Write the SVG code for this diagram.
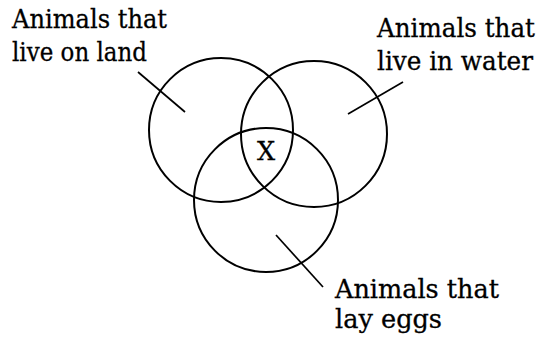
<svg xmlns="http://www.w3.org/2000/svg" width="541" height="339" viewBox="0 0 541 339">
<style>
.c{fill:none;stroke:#000;stroke-width:2}
.l{stroke:#000;stroke-width:1.7}
text{font-family:"DejaVu Serif","Liberation Serif",serif;font-size:25.5px;fill:#000;stroke:#000;stroke-width:0.3}
</style>
<rect width="541" height="339" fill="#fff"/>
<g id="land"><circle class="c" cx="221" cy="130" r="72"/></g>
<g id="water"><circle class="c" cx="314" cy="134" r="73"/></g>
<g id="eggs"><circle class="c" cx="266" cy="200" r="72"/></g>
<g id="x"><text x="266" y="160" text-anchor="middle">X</text></g>
<g id="connectors">
<line class="l" x1="138" y1="72" x2="185" y2="112"/>
<line class="l" x1="403" y1="82" x2="348" y2="114"/>
<line class="l" x1="276" y1="235" x2="323" y2="287"/>
</g>
<g id="label-land"><text x="12" y="28" textLength="155" lengthAdjust="spacingAndGlyphs">Animals that</text><text x="12" y="61" textLength="135" lengthAdjust="spacingAndGlyphs">live on land</text></g>
<g id="label-water"><text x="377" y="37" textLength="158" lengthAdjust="spacingAndGlyphs">Animals that</text><text x="377" y="70" textLength="156" lengthAdjust="spacingAndGlyphs">live in water</text></g>
<g id="label-eggs"><text x="335" y="298" textLength="164" lengthAdjust="spacingAndGlyphs">Animals that</text><text x="335" y="328" textLength="107" lengthAdjust="spacingAndGlyphs">lay eggs</text></g>
</svg>
